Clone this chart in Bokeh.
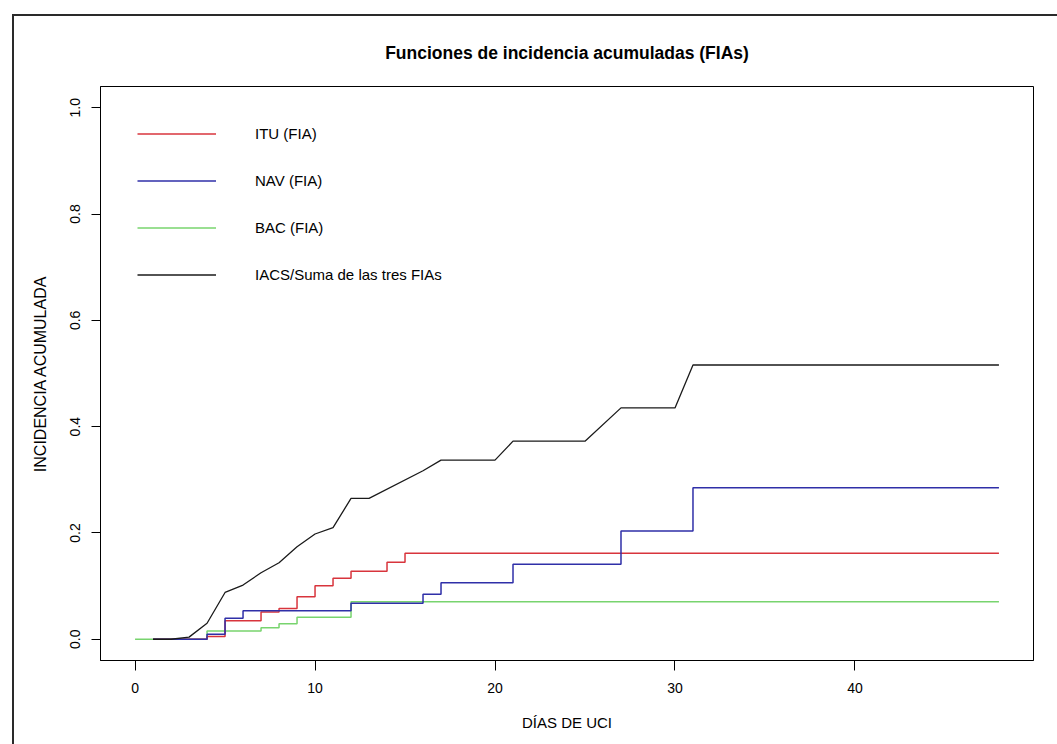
from bokeh.plotting import figure
from bokeh.models import Range1d, FixedTicker, Legend, LegendItem, PrintfTickFormatter
from bokeh.embed import file_html
from bokeh.resources import INLINE

# ---- data ----
days_itu = [1, 4, 5, 7, 8, 9, 10, 11, 12, 14, 15, 48]
itu = [0, 0.005, 0.035, 0.0513, 0.058, 0.080, 0.1008, 0.1146, 0.128, 0.1447, 0.1617, 0.1617]

days_nav = [1, 4, 5, 6, 12, 16, 17, 21, 27, 31, 48]
nav = [0, 0.0093, 0.0393, 0.0538, 0.0677, 0.0846, 0.1064, 0.141, 0.2036, 0.285, 0.285]

days_bac = [0, 4, 7, 8, 9, 12, 48]
bac = [0, 0.0156, 0.0215, 0.029, 0.0413, 0.0707, 0.0707]

days_iacs = [1, 2, 3, 4, 5, 6, 7, 8, 9, 10, 11, 12, 13, 16, 17, 20, 21, 25, 27, 30, 31, 48]
iacs = [0, 0, 0.004, 0.030, 0.088, 0.102, 0.125, 0.144, 0.174, 0.198, 0.210, 0.265, 0.265,
        0.317, 0.337, 0.337, 0.3727, 0.3727, 0.4353, 0.4353, 0.516, 0.516]

x_ticks = [0, 10, 20, 30, 40]
y_ticks = [0.0, 0.2, 0.4, 0.6, 0.8, 1.0]

labels = ["ITU (FIA)", "NAV (FIA)", "BAC (FIA)", "IACS/Suma de las tres FIAs"]
colors = ["#d8343c", "#2f2fa8", "#78d46e", "#1a1a1a"]

FONT = "Liberation Sans"

p = figure(width=1057, height=744, output_backend="svg", toolbar_location=None,
           x_range=Range1d(-1.92, 49.92), y_range=Range1d(-0.04, 1.04),
           min_border_left=100, min_border_right=24, min_border_top=86, min_border_bottom=84)

p.styles = {"box-shadow": "inset 12px 14px 0 0 white, inset 14px 16px 0 0 #2a2a2a"}
p.border_fill_alpha = 0
p.background_fill_color = "white"

p.grid.visible = False
p.outline_line_color = "black"
p.outline_line_width = 1

# title
p.title.text = "Funciones de incidencia acumuladas (FIAs)"
p.title.align = "center"
p.title.text_font = FONT
p.title.text_font_size = "17.5px"
p.title.text_font_style = "bold"
p.title.text_color = "black"
p.title.standoff = 47

# axes
for ax in (p.xaxis[0], p.yaxis[0]):
    ax.axis_line_color = "black"
    ax.major_tick_line_color = "black"
    ax.major_tick_in = 0
    ax.minor_tick_line_color = None
    ax.major_label_text_font = FONT
    ax.major_label_text_font_size = "14px"
    ax.major_label_text_color = "black"
    ax.axis_label_text_font = FONT
    ax.axis_label_text_font_size = "15px"
    ax.axis_label_text_font_style = "normal"
    ax.axis_label_text_color = "black"

p.xaxis[0].ticker = FixedTicker(ticks=x_ticks)
p.xaxis[0].formatter = PrintfTickFormatter(format="%d")
p.xaxis[0].major_tick_out = 10
p.xaxis[0].major_label_standoff = 12
p.xaxis[0].axis_label = "DÍAS DE UCI"
p.xaxis[0].axis_label_standoff = 18

p.yaxis[0].ticker = FixedTicker(ticks=y_ticks)
p.yaxis[0].formatter = PrintfTickFormatter(format="%.1f")
p.yaxis[0].major_tick_out = 9
p.yaxis[0].major_label_orientation = "vertical"
p.yaxis[0].major_label_standoff = 11
p.yaxis[0].axis_label = "INCIDENCIA ACUMULADA"
p.yaxis[0].axis_label_text_font_size = "16px"
p.yaxis[0].axis_label_standoff = 19

# series (drawn in this order: BAC, ITU, NAV, IACS)
r_bac = p.step(days_bac, bac, mode="after", line_color=colors[2], line_width=1.5)
r_itu = p.step(days_itu, itu, mode="after", line_color=colors[0], line_width=1.5)
r_nav = p.step(days_nav, nav, mode="after", line_color=colors[1], line_width=1.5)
r_iacs = p.line(days_iacs, iacs, line_color=colors[3], line_width=1.3)

legend = Legend(items=[LegendItem(label=labels[0], renderers=[r_itu]),
                       LegendItem(label=labels[1], renderers=[r_nav]),
                       LegendItem(label=labels[2], renderers=[r_bac]),
                       LegendItem(label=labels[3], renderers=[r_iacs])],
                location="top_left", margin=0, padding=37,
                glyph_width=79, glyph_height=21, label_height=21, spacing=26,
                label_standoff=39, label_text_font=FONT, label_text_font_size="15px",
                label_text_color="black", border_line_alpha=0, background_fill_alpha=0)
p.add_layout(legend, "center")

open("out.html", "w").write(file_html(p, INLINE))
